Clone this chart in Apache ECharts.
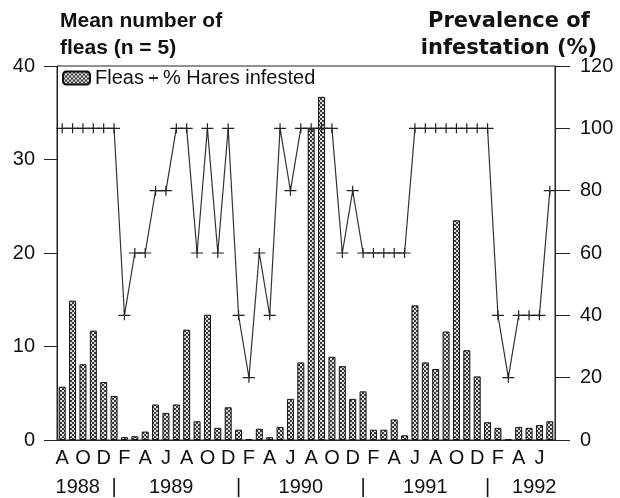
<!DOCTYPE html>
<html>
<head>
<meta charset="utf-8">
<script src="https://cdn.jsdelivr.net/npm/echarts@6/dist/echarts.min.js"></script>
<style>
html,body{margin:0;padding:0;background:#fff;}
#chart{width:620px;height:498px;}
</style>
</head>
<body>
<div id="chart"></div>
<script>
// Months Aug 1988 .. Jul 1992
var monthLetters = ['A','S','O','N','D','J','F','M','A','M','J','J',
                    'A','S','O','N','D','J','F','M','A','M','J','J',
                    'A','S','O','N','D','J','F','M','A','M','J','J',
                    'A','S','O','N','D','J','F','M','A','M','J','J'];
// Mean number of fleas (left axis)
var fleas = [5.7, 14.9, 8.1, 11.7, 6.2, 4.7, 0.3, 0.4, 0.9, 3.8, 2.9, 3.8,
             11.8, 2.0, 13.4, 1.3, 3.5, 1.1, 0.1, 1.2, 0.3, 1.4, 4.4, 8.3,
             33.3, 36.7, 8.9, 7.9, 4.4, 5.2, 1.1, 1.1, 2.2, 0.5, 14.4, 8.3,
             7.6, 11.6, 23.5, 9.6, 6.8, 1.9, 1.3, 0.1, 1.4, 1.3, 1.6, 2.0];
// % hares infested (right axis)
var infested = [100, 100, 100, 100, 100, 100, 40, 60, 60, 80, 80, 100,
                100, 60, 100, 60, 100, 40, 20, 60, 40, 100, 80, 100,
                100, 100, 100, 60, 80, 60, 60, 60, 60, 60, 100, 100,
                100, 100, 100, 100, 100, 100, 40, 20, 40, 40, 40, 80];
// Year row labels (positions in month units from the left edge)
var yearLabels = ['1988', '1989', '1990', '1991', '1992'];
var yearPos = [2, 11, 23.5, 35.5, 46];
var dividerPos = [5.5, 17.5, 29.5, 41.5];

var FONT = "'Liberation Sans', Arial, Helvetica, sans-serif";
var WIDE = "'DejaVu Sans', 'Liberation Sans', Arial, sans-serif";

function makePattern() {
  var c = document.createElement('canvas');
  c.width = 4; c.height = 4;
  var g = c.getContext('2d');
  g.fillStyle = '#3a3a3a';
  g.fillRect(0, 0, 4, 4);
  g.fillStyle = '#dcdcdc';
  g.fillRect(0, 0, 2, 2);
  g.fillRect(2, 2, 2, 2);
  return c;
}
var pattern = { image: makePattern(), repeat: 'repeat' };
var plusPath = 'path://M0,4.4H12V5.6H0ZM5.4,0H6.6V10H5.4Z';

var chart = echarts.init(document.getElementById('chart'), null, { renderer: 'canvas' });
chart.setOption({
  animation: false,
  backgroundColor: '#fff',
  textStyle: { fontFamily: FONT },
  title: [
    { text: 'Mean number of\nfleas (n = 5)', left: 55, top: 3,
      textStyle: { fontFamily: FONT, fontWeight: 'bold', fontSize: 21, lineHeight: 27, color: '#111' } },
    { text: 'Prevalence of\ninfestation (%)', left: 504, top: 3, textAlign: 'center',
      textStyle: { fontFamily: WIDE, fontWeight: 'bold', fontSize: 21, lineHeight: 27, color: '#111', align: 'center' } }
  ],
  legend: [
    { data: ['Fleas'], left: 57, top: 63, itemWidth: 27, itemHeight: 13, itemGap: 5,
      textStyle: { fontFamily: FONT, fontSize: 20, color: '#111' } },
    { data: ['% Hares infested'], left: 143, top: 63, itemWidth: 9, itemHeight: 9, itemGap: 5,
      textStyle: { fontFamily: FONT, fontSize: 20, color: '#111' } }
  ],
  grid: { left: 57, right: 65, top: 66, bottom: 58, show: true, borderColor: '#222', borderWidth: 1, backgroundColor: 'transparent' },
  xAxis: [
    { type: 'category', data: monthLetters, boundaryGap: true,
      axisLine: { show: true, lineStyle: { color: '#222', width: 1 } },
      axisTick: { show: false },
      axisLabel: { interval: 1, margin: 8, fontFamily: FONT, fontSize: 20, color: '#111' },
      splitLine: { show: false } },
    { type: 'value', min: 0, max: 48, interval: 0.5, position: 'bottom',
      axisLine: { show: false }, axisTick: { show: false }, splitLine: { show: false },
      axisLabel: { margin: 37, fontFamily: FONT, fontSize: 20, color: '#111',
        showMinLabel: true, showMaxLabel: true,
        formatter: function (v) {
          var i = yearPos.indexOf(v);
          if (i >= 0) return yearLabels[i];
          if (dividerPos.indexOf(v) >= 0) return '|';
          return '';
        } } }
  ],
  yAxis: [
    { type: 'value', min: 0, max: 40, interval: 10, position: 'left',
      axisLine: { show: true, lineStyle: { color: '#222', width: 1 } },
      axisTick: { show: true, length: 13, lineStyle: { color: '#222' } },
      axisLabel: { margin: 22, fontFamily: FONT, fontSize: 20, color: '#111' },
      splitLine: { show: false } },
    { type: 'value', min: 0, max: 120, interval: 20, position: 'right',
      axisLine: { show: true, lineStyle: { color: '#222', width: 1 } },
      axisTick: { show: true, length: 15, lineStyle: { color: '#222' } },
      axisLabel: { margin: 25, fontFamily: FONT, fontSize: 20, color: '#111' },
      splitLine: { show: false } }
  ],
  series: [
    { name: 'Fleas', type: 'bar', data: fleas, xAxisIndex: 0, yAxisIndex: 0,
      barWidth: 7,
      itemStyle: { color: pattern, borderColor: '#111', borderWidth: 1 } },
    { name: '% Hares infested', type: 'line', data: infested, xAxisIndex: 0, yAxisIndex: 1,
      symbol: plusPath, symbolSize: [12, 10], showAllSymbol: true,
      lineStyle: { color: '#333', width: 1.2 },
      itemStyle: { color: '#222' } }
  ]
});
</script>
</body>
</html>
